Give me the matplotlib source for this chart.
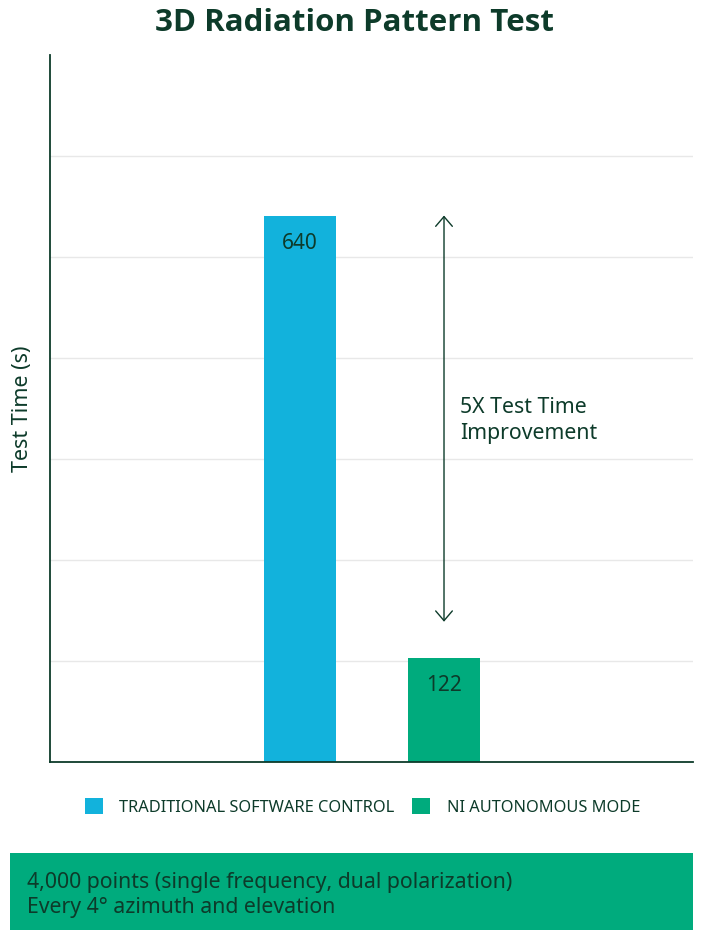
import numpy as np
import matplotlib
matplotlib.use("Agg")
import matplotlib.pyplot as plt
from matplotlib.patches import Patch, Rectangle

# data
categories = ["TRADITIONAL SOFTWARE CONTROL", "NI AUTONOMOUS MODE"]
test_times = [640, 122]
bar_colors = ["#12b2dc", "#00ab7d"]
title = "3D Radiation Pattern Test"
ylabel = "Test Time (s)"
note = "5X Test Time\nImprovement"
footer = "4,000 points (single frequency, dual polarization)\nEvery 4° azimuth and elevation"

dark = "#0d3b2a"
plt.rcParams["font.family"] = ["Noto Sans", "DejaVu Sans"]

fig = plt.figure(figsize=(7.01, 9.30), dpi=100)
ax = fig.add_axes([50 / 701, 1 - 762 / 930, 643 / 701, 707 / 930])

x = np.arange(len(categories))
bars = ax.bar(x, test_times, width=0.5, color=bar_colors, zorder=2)

ymax = 828
ax.set_ylim(0, ymax)
ax.set_xlim(-1.736, 2.729)
ax.set_yticks(np.linspace(0, ymax, 8)[1:-1])
ax.set_xticks([])
ax.tick_params(axis="y", length=0, labelleft=False)
ax.grid(axis="y", color="#e8e8e8", linewidth=1, zorder=0)
for s in ["top", "right"]:
    ax.spines[s].set_visible(False)
for s in ["left", "bottom"]:
    ax.spines[s].set_color(dark)
    ax.spines[s].set_linewidth(1.3)

for xi, v in zip(x, test_times):
    ax.annotate(str(v), (xi, v), xytext=(0, -20), textcoords="offset points",
                ha="center", va="center", fontsize=15, color=dark)

ax.annotate("", xy=(1, test_times[1]), xytext=(1, test_times[0]),
            arrowprops=dict(arrowstyle="<->,head_length=0.7,head_width=0.6",
                            color=dark, lw=1, shrinkA=0, shrinkB=26))
ax.text(1.11, 400, note, ha="left", va="center", fontsize=15.3, color=dark,
        linespacing=1.3)

ax.set_ylabel(ylabel, fontsize=15.5, color=dark, labelpad=12)

fig.text(0.505, 1 - 23 / 930, title, ha="center", va="center", fontsize=22.5,
         fontweight="bold", color=dark, family=["Open Sans", "DejaVu Sans"])

handles = [Patch(facecolor=c, edgecolor="none") for c in bar_colors]
fig.legend(handles, categories, loc="center", bbox_to_anchor=(0.517, 1 - 807 / 930),
           ncol=2, frameon=False, fontsize=11.8, labelcolor=dark,
           handlelength=1.1, handleheight=1.1, handletextpad=1.0,
           columnspacing=1.1)

fig.patches.append(Rectangle((10 / 701, 0), 683 / 701, 77 / 930,
                             transform=fig.transFigure, facecolor="#00ab7d",
                             edgecolor="none", zorder=0))
fig.text(27 / 701, 1 - 895 / 930, footer, ha="left", va="center", fontsize=15.3,
         color=dark, linespacing=1.22)

fig.savefig("out.png", dpi=100)
